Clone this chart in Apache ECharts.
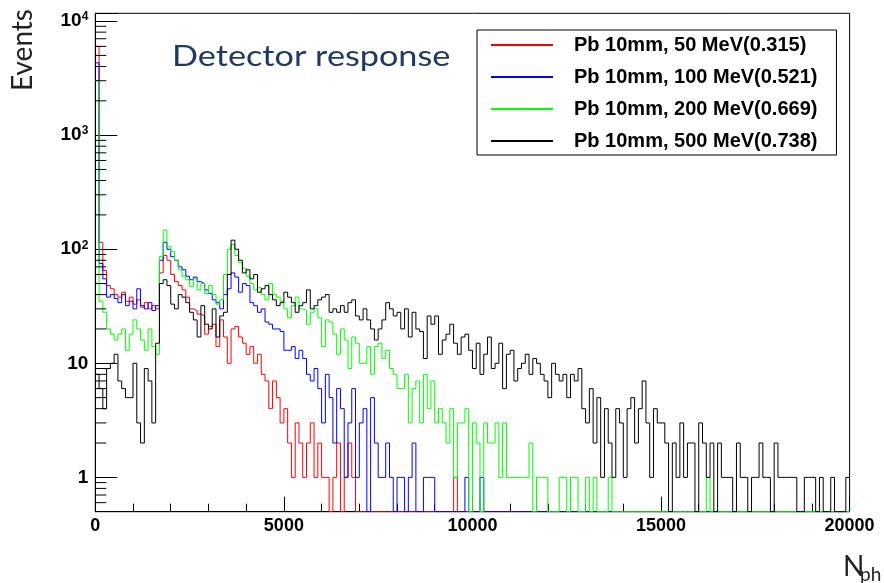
<!DOCTYPE html>
<html>
<head>
<meta charset="utf-8">
<script src="https://cdn.jsdelivr.net/npm/echarts@6/dist/echarts.min.js"></script>
<style>html,body{margin:0;padding:0;background:#fff}#c{width:884px;height:583px}</style>
</head>
<body>
<div id="c"></div>
<script>
// ---- data (histogram counts per 100-photon bin, bins start at 0) ----
const binWidth = 100;
const nBins = 200;
const seriesNames = ['Pb 10mm, 50 MeV(0.315)', 'Pb 10mm, 100 MeV(0.521)', 'Pb 10mm, 200 MeV(0.669)', 'Pb 10mm, 500 MeV(0.738)'];
const seriesColors = ['#ff0000', '#0000ff', '#00ff00', '#000000'];

const counts50 = [6000,115,65,48,45,40,38,42,35,38, 33,36,31,34,30,32,30,62,88,80,
  60,52,48,44,38,30,29,27,26,18, 21,22,14,24,17,10,20,21,17,15,
  12,14,10,12,8,7,4,7,5,3, 4,2,1,3,2,1,2,3,1,2,
  1,1,0,1,2,0,1,2,1,0, 0,0,0,0,0,0,0,0,0,0,
  0,0,0,0,0,0,0,0,0,0, 0,0,0,0,0,1];

const counts100 = [4300,75,55,38,40,37,34,40,32,35, 30,45,32,30,34,29,32,80,115,100,
  86,80,70,66,58,54,57,52,50,44, 41,36,34,30,40,45,62,57,42,50,
  48,34,32,28,30,23,22,20,20,19, 13,13,14,11,13,11,8,7,9,6,
  3,8,5,2,6,4,1,3,6,1, 3,4,0,5,2,1,1,2,1,0,
  1,1,0,1,2,0,0,1,1,1, 0,0,0,0,0,0,0,0,1,0,
  0,0,1];

const counts200 = [3000,35,28,20,18,16,18,20,13,18, 24,20,16,13,20,14,12,86,147,105,
  95,80,66,58,54,47,55,44,50,41, 48,40,33,36,60,100,110,88,76,68,
  58,50,44,46,40,36,50,40,38,35, 30,25,32,38,30,29,22,28,30,25,
  14,24,23,18,12,20,16,9,17,15, 10,10,14,8,14,15,11,13,9,8,
  6,6,8,3,6,7,3,8,4,7, 3,4,3,2,4,1,3,3,4,0,
  3,2,0,3,2,2,3,1,3,1, 1,1,1,1,1,2,0,1,1,1,
  0,0,0,1,1,0,1,1,0,0, 1,0,1,0,0,0,1,0,0,0,
  0,0,0,0,0,0,0,0,0,0, 0,0,0,0,0,0,0,0,0,0,
  0,0,1];

const counts500 = [8,6,4,9,10,12,7,6,5,5, 10,3,2,9,7,3,15,50,54,48,
  33,30,40,38,34,28,24,17,32,22, 20,30,17,26,28,60,120,100,80,62,
  66,55,60,42,45,48,40,36,32,34, 42,38,34,28,32,34,44,30,32,36,
  38,40,28,30,28,32,28,34,36,26, 24,30,24,20,16,20,24,34,30,26,
  28,20,30,17,28,20,19,11,26,22, 26,12,16,18,22,15,12,17,18,13,
  9,15,8,12,17,9,10,15,6,12, 13,7,9,10,12,8,11,10,8,7,
  5,10,8,7,8,5,8,7,9,4, 3,6,2,5,1,4,2,1,4,3,
  1,4,5,2,4,7,3,1,4,3, 3,2,0,2,1,3,1,2,2,0,
  3,2,1,2,0,2,1,1,1,0, 2,1,1,0,1,1,2,1,1,0,
  2,1,1,1,1,1,0,0,1,1, 1,0,1,0,0,1,0,0,0,1];

const xTickValues = [0, 5000, 10000, 15000, 20000];
const yTickValues = [1, 10, 100, 1000, 10000];
const yTickLabels = ['1', '10', '10{s|2}', '10{s|3}', '10{s|4}'];
const yMinorTicks = [0.6,0.7,0.8,0.9, 2,3,4,5,6,7,8,9, 20,30,40,50,60,70,80,90,
  200,300,400,500,600,700,800,900, 2000,3000,4000,5000,6000,7000,8000,9000];

const Y_MIN = 0.5, Y_MAX = 11700, X_MIN = 0, X_MAX = 20000;

// ---- build ----
function toSteps(counts) {
  const pts = [];
  for (let i = 0; i < nBins; i++) {
    const c = i < counts.length ? counts[i] : 0;
    pts.push([i * binWidth, c > 0 ? c : Y_MIN]);
  }
  pts.push([nBins * binWidth, pts[pts.length - 1][1]]);
  return pts;
}
const allCounts = [counts50, counts100, counts200, counts500];

const tickFont = 'Liberation Sans, Arial, Helvetica, sans-serif';
const chart = echarts.init(document.getElementById('c'), null, {renderer: 'canvas'});

const series = allCounts.map((c, k) => ({
  name: seriesNames[k], type: 'line', step: 'end', symbol: 'none', showSymbol: false,
  data: toSteps(c), clip: true, animation: false, silent: true,
  lineStyle: {color: seriesColors[k], width: 1}, itemStyle: {color: seriesColors[k]},
  z: 2 + k
}));
series.push({
  type: 'custom', name: 'minor', silent: true, animation: false, z: 10,
  data: yMinorTicks.map(v => [0, v]),
  renderItem: function (params, api) {
    const p = api.coord([0, api.value(1)]);
    return {type: 'line', shape: {x1: p[0], y1: p[1], x2: p[0] + 11, y2: p[1]},
      style: {stroke: '#000', lineWidth: 1}};
  }
});

chart.setOption({
  backgroundColor: '#fff',
  animation: false,
  grid: {left: 95.3, right: 34.4, top: 13.3, bottom: 71.3, show: true,
    borderColor: '#000', borderWidth: 1, backgroundColor: 'transparent', containLabel: false, outerBoundsMode: 'none'},
  xAxis: {
    type: 'value', min: X_MIN, max: X_MAX, interval: 5000,
    axisLine: {show: true, lineStyle: {color: '#000', width: 1}},
    axisTick: {show: true, inside: true, length: 15, lineStyle: {color: '#000'}},
    minorTick: {show: true, splitNumber: 5, length: 8, lineStyle: {color: '#000'}},
    splitLine: {show: false}, minorSplitLine: {show: false},
    axisLabel: {show: true, margin: 5, color: '#000', fontFamily: tickFont, fontWeight: 'bold', fontSize: 18,
      showMinLabel: true, showMaxLabel: true,
      formatter: v => (xTickValues.indexOf(v) >= 0 ? String(v) : '')}
  },
  yAxis: {
    type: 'log', logBase: 10, min: Y_MIN, max: Y_MAX,
    axisLine: {show: true, lineStyle: {color: '#000', width: 1}},
    axisTick: {show: true, inside: true, length: 22, lineStyle: {color: '#000'}},
    splitLine: {show: false},
    axisLabel: {show: true, margin: 7, color: '#000', fontFamily: tickFont, fontWeight: 'bold', fontSize: 19,
      showMinLabel: true, showMaxLabel: true,
      formatter: function (v) {
        for (let i = 0; i < yTickValues.length; i++) {
          if (Math.abs(v - yTickValues[i]) < 1e-6 * yTickValues[i]) return yTickLabels[i];
        }
        return '';
      },
      rich: {s: {fontFamily: tickFont, fontWeight: 'bold', fontSize: 12, color: '#000', padding: [0, 0, 8, 0]}}
    }
  },
  legend: {
    data: seriesNames, orient: 'vertical', left: 477, top: 30,
    padding: [5, 19, 4, 14], itemGap: 12, itemWidth: 62, itemHeight: 2, icon: 'rect',
    backgroundColor: '#fff', borderColor: '#000', borderWidth: 1, borderRadius: 0,
    selectedMode: false,
    textStyle: {color: '#000', fontFamily: tickFont, fontWeight: 'bold', fontSize: 20, padding: [0, 0, 0, 16]}
  },
  graphic: [
    {type: 'text', x: 172, y: 57, scaleX: 1.18, style: {text: 'Detector response', font: '29px Lato', fill: '#1F3864', align: 'left', verticalAlign: 'middle'}},
    {type: 'text', x: 23, y: 50, rotation: Math.PI / 2, style: {text: 'Events', font: '28px Lato', fill: '#222', align: 'center', verticalAlign: 'middle'}},
    {type: 'text', x: 843, y: 567, style: {text: 'N', font: '28px Lato', fill: '#222', align: 'left', verticalAlign: 'middle'}},
    {type: 'text', x: 860, y: 575, style: {text: 'ph', font: '19px Lato', fill: '#222', align: 'left', verticalAlign: 'middle'}}
  ],
  series: series
});
</script>
</body>
</html>
